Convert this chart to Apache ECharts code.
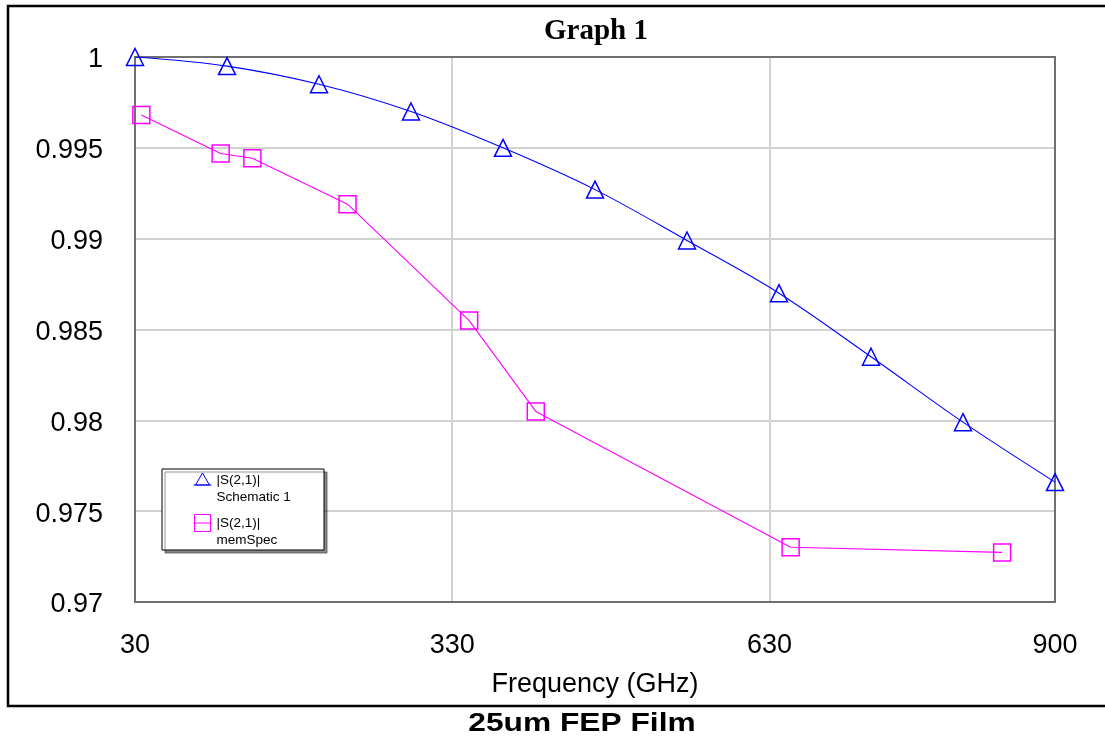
<!DOCTYPE html>
<html>
<head>
<meta charset="utf-8">
<style>
  html, body { margin: 0; padding: 0; background: #fff; }
  #chart { width: 1105px; height: 740px; }
</style>
<script src="https://cdn.jsdelivr.net/npm/echarts@6/dist/echarts.min.js"></script>
</head>
<body>
<div id="chart"></div>
<script>
// ---- data ----
const schematicFreq = [30, 117, 204, 291, 378, 465, 552, 639, 726, 813, 900];
const schematicS21  = [1.0000, 0.9995, 0.9985, 0.9970, 0.9950, 0.9927, 0.9899, 0.9870, 0.9835, 0.9799, 0.9766];
const memSpecFreq   = [36, 111, 141, 231, 346, 409, 650, 850];
const memSpecS21    = [0.99681, 0.99469, 0.99443, 0.99190, 0.98549, 0.98049, 0.97301, 0.97273];
const seriesNames   = ['|S(2,1)| Schematic 1', '|S(2,1)| memSpec'];
const xTickMin = 30, xTickMax = 900, xTickStep = 300;
const yTickMin = 0.97, yTickMax = 1.0, yTickStep = 0.005;
const titleText = 'Graph 1';
const xAxisTitle = 'Frequency (GHz)';
const captionText = '25um FEP Film';

const font = "'Liberation Sans', Arial, sans-serif";
const blue = '#0000ff', magenta = '#ff00ff';
const frameColor = '#707070';

const schematicData = schematicFreq.map((f, i) => [f, schematicS21[i]]);
const memSpecData = memSpecFreq.map((f, i) => [f, memSpecS21[i]]);

const triIcon = 'path://M9,0 L9,0.01 M0,13.5 L18,13.5 M2,13.5 L9,1.5 L16,13.5 Z M9,17 L9,16.99';
const sqIcon  = 'path://M0,8.5 L18,8.5 M1,0 L17,0 L17,17 L1,17 Z';

const chart = echarts.init(document.getElementById('chart'), null, { renderer: 'canvas' });
chart.setOption({
  animation: false,
  backgroundColor: '#fff',
  grid: {
    left: 135, right: 50, top: 57, bottom: 138, z: 1,
    show: true, borderColor: frameColor, borderWidth: 2, backgroundColor: 'rgba(0,0,0,0)'
  },
  xAxis: {
    type: 'value', min: xTickMin, max: xTickMax, interval: xTickStep,
    axisLine: { show: true, lineStyle: { color: frameColor, width: 2 } }, axisTick: { show: false },
    splitLine: { show: true, lineStyle: { color: '#d2d2d2', width: 2 } },
    axisLabel: { fontSize: 27, fontFamily: font, color: '#000', margin: 30, showMinLabel: true, showMaxLabel: true },
    name: xAxisTitle, nameLocation: 'middle', nameGap: 69,
    nameTextStyle: { fontSize: 27, fontFamily: font, color: '#000' }
  },
  yAxis: {
    type: 'value', min: yTickMin, max: yTickMax, interval: yTickStep,
    axisLine: { show: true, lineStyle: { color: frameColor, width: 2 } }, axisTick: { show: false },
    splitLine: { show: true, lineStyle: { color: '#d2d2d2', width: 2 } },
    axisLabel: {
      fontSize: 27, fontFamily: font, color: '#000', margin: 32,
      formatter: v => '{v|' + String(+(+v).toFixed(3)) + '}',
      rich: { v: { fontSize: 27, fontFamily: font, color: '#000', padding: [6, 0, 0, 0] } }
    }
  },
  legend: {
    orient: 'vertical', left: 193, top: 454.5, padding: 0, itemGap: -8,
    itemWidth: 18, itemHeight: 17, selectedMode: false,
    formatter: name => '\n' + name.replace(' ', '\n'),
    textStyle: { fontSize: 13.5, fontFamily: font, color: '#000', lineHeight: 17 },
    data: [
      { name: seriesNames[0], icon: triIcon, itemStyle: { color: 'rgba(0,0,0,0)', borderColor: blue, borderWidth: 1 } },
      { name: seriesNames[1], icon: sqIcon, itemStyle: { color: 'rgba(0,0,0,0)', borderColor: magenta, borderWidth: 1 } }
    ],
    z: 10
  },
  graphic: [
    { type: 'rect', z: 100, silent: true,
      shape: { x: 8, y: 6, width: 1110, height: 700 },
      style: { fill: 'none', stroke: '#000', lineWidth: 2.5 } },
    { type: 'rect', z: 3, silent: true,
      shape: { x: 162, y: 469, width: 162, height: 81 },
      style: { fill: '#fff', stroke: '#000', lineWidth: 1, shadowColor: 'rgba(0,0,0,0.45)', shadowOffsetX: 3, shadowOffsetY: 3, shadowBlur: 1 } },
    { type: 'text', z: 100, silent: true, x: 596, y: 32,
      style: { text: titleText, align: 'center', verticalAlign: 'middle', fill: '#000',
               font: "bold 29px 'Liberation Serif', 'Times New Roman', serif" } },
    { type: 'text', z: 100, silent: true, x: 582, y: 724, scaleX: 1.22,
      style: { text: captionText, align: 'center', verticalAlign: 'middle', fill: '#000',
               font: "bold 26px 'Liberation Sans', Arial, sans-serif" } }
  ],
  series: [
    {
      name: seriesNames[0], type: 'line', data: schematicData, smooth: 0.35,
      symbol: 'triangle', symbolSize: 17,
      lineStyle: { color: blue, width: 1.1 },
      itemStyle: { color: 'rgba(0,0,0,0)', borderColor: blue, borderWidth: 1.5 },
      emphasis: { disabled: true }, z: 5
    },
    {
      name: seriesNames[1], type: 'line', data: memSpecData, smooth: false,
      symbol: 'rect', symbolSize: 17,
      lineStyle: { color: magenta, width: 1.1 },
      itemStyle: { color: 'rgba(0,0,0,0)', borderColor: magenta, borderWidth: 1.5 },
      emphasis: { disabled: true }, z: 5
    }
  ]
});
</script>
</body>
</html>
